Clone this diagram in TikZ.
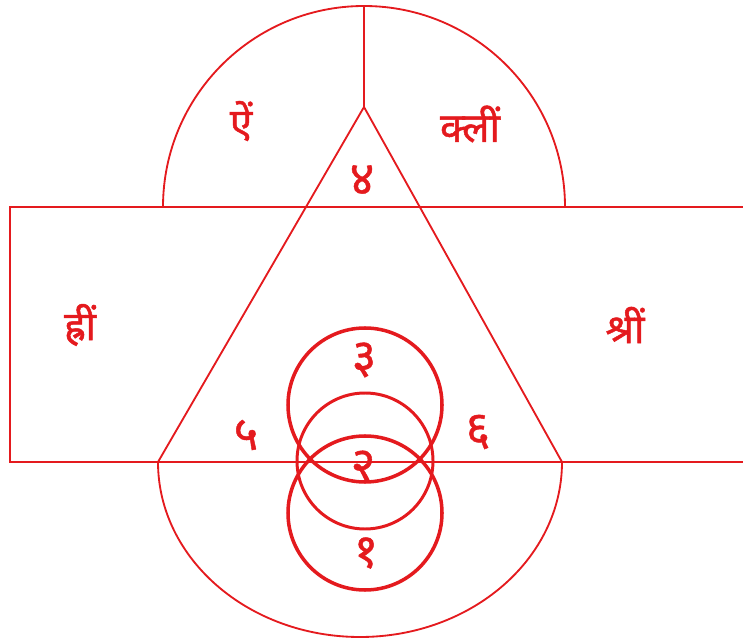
\documentclass[tikz,border=0pt]{standalone}
\usepackage{fontspec}
\newfontfamily\devfont[Script=Devanagari,FakeBold=1.2]{Noto Sans}
\newfontfamily\devnum[Script=Devanagari,FakeBold=0.9]{Noto Sans}
\usepackage{xcolor}
\usepackage{tikz}
\usetikzlibrary{positioning}
\definecolor{yantrared}{RGB}{228,26,30}

\begin{document}
\begin{tikzpicture}[x=0.02cm, y=-0.02cm,
  thinline/.style={draw=yantrared, line width=1.05pt},
  ring/.style={draw=yantrared, line width=2pt},
  word/.style={text=yantrared, font=\devfont\fontsize{23}{26}\selectfont},
  num/.style={text=yantrared, font=\devnum\fontsize{27}{30}\selectfont}]
  \useasboundingbox (0,0) rectangle (743,641);

  % Frame points
  \coordinate (apex) at (364,107);
  \coordinate (baseL) at (158,462);
  \coordinate (baseR) at (562,462);

  % Band across the middle (open to the right)
  \draw[thinline] (743,207) -- (10,207) -- (10,462) -- (743,462);

  % Upper half circle and its divider
  \draw[thinline] (163,207) arc (180:360:201);
  \draw[thinline] (364,6) -- (apex);

  % Lower half ellipse
  \draw[thinline] (baseL) arc (180:0:202 and 175);

  % Triangle
  \draw[thinline] (baseL) -- (apex) -- (baseR);

  % Three rings
  \draw[ring] (365,405) circle (77);
  \draw[draw=yantrared, line width=1.7pt] (365,461) circle (68);
  \draw[ring] (365,513) circle (77);

  % Seed syllables
  \node[word] (aim) at (241,121) {ऐं};
  \node[word] (klim) at (470,124) {क्लीं};
  \node[word] (hrim) at (80,325) {ह्रीं};
  \node[word] (shrim) at (625,325) {श्रीं};

  % Numbers
  \node[num] (n4) at (362,180) {४};
  \node[num] (n3) at (364,360) {३};
  \node[num] (n5) at (246,435) {५};
  \node[num] (n6) at (478,432) {६};
  \node[num] (n2) at (363,466) {२};
  \node[num] (n1) at (366,553) {१};
\end{tikzpicture}
\end{document}
